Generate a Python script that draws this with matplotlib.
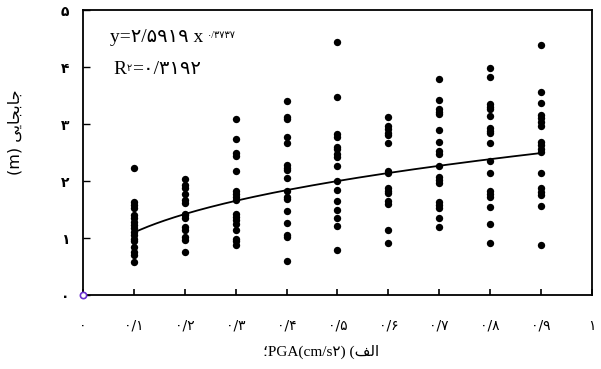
import matplotlib
matplotlib.use("Agg")
import matplotlib.pyplot as plt
import numpy as np

# ---- data ----
pga_levels = [0.1, 0.2, 0.3, 0.4, 0.5, 0.6, 0.7, 0.8, 0.9]
disp_01 = [2.23, 1.64, 1.58, 1.52, 1.40, 1.35, 1.29, 1.23, 1.17, 1.11, 1.05, 0.99, 0.94, 0.85, 0.76, 0.70, 0.58]
disp_02 = [2.04, 1.93, 1.87, 1.78, 1.67, 1.61, 1.43, 1.40, 1.35, 1.20, 1.14, 1.02, 0.96, 0.76]
disp_03 = [3.09, 2.74, 2.49, 2.44, 2.18, 1.83, 1.78, 1.72, 1.67, 1.43, 1.37, 1.32, 1.25, 1.14, 0.98, 0.94, 0.87]
disp_04 = [3.41, 3.12, 3.09, 2.78, 2.66, 2.29, 2.23, 2.19, 2.06, 1.83, 1.72, 1.68, 1.47, 1.27, 1.05, 1.02, 0.60]
disp_05 = [4.44, 3.48, 2.82, 2.78, 2.60, 2.56, 2.47, 2.43, 2.27, 2.00, 1.84, 1.65, 1.50, 1.36, 1.22, 0.79]
disp_06 = [3.13, 2.96, 2.91, 2.85, 2.81, 2.66, 2.18, 2.15, 1.87, 1.83, 1.79, 1.65, 1.60, 1.14, 0.91]
disp_07 = [3.79, 3.43, 3.26, 3.22, 3.18, 2.89, 2.69, 2.53, 2.47, 2.27, 2.08, 2.02, 1.97, 1.64, 1.58, 1.52, 1.36, 1.19]
disp_08 = [3.98, 3.82, 3.35, 3.30, 3.26, 3.14, 2.94, 2.88, 2.84, 2.66, 2.36, 2.15, 1.83, 1.78, 1.72, 1.55, 1.25, 0.92]
disp_09 = [4.39, 3.57, 3.37, 3.16, 3.10, 3.04, 2.96, 2.69, 2.63, 2.57, 2.51, 2.15, 1.87, 1.81, 1.75, 1.56, 0.88]
columns = [disp_01, disp_02, disp_03, disp_04, disp_05, disp_06, disp_07, disp_08, disp_09]

# power fit shown on the chart: y = a * x^b
fit_a = 2.5919
fit_b = 0.3737

x_ticks = [0, 0.1, 0.2, 0.3, 0.4, 0.5, 0.6, 0.7, 0.8, 0.9, 1.0]
x_tick_labels = ["۰", "۰/۱", "۰/۲", "۰/۳", "۰/۴", "۰/۵", "۰/۶", "۰/۷", "۰/۸", "۰/۹", "۱"]
y_ticks = [0, 1, 2, 3, 4, 5]
y_tick_labels = ["۰", "۱", "۲", "۳", "۴", "۵"]

eq_main = "y=۲/۵۹۱۹ x"
eq_exp = "۰/۳۷۳۷"
r2_a = "R"
r2_sup = "۲"
r2_b = "=۰/۳۱۹۲"
# visual-order text with Arabic presentation forms
ylabel_text = "(m) ﻰﻳﺎﺠﺑﺎﺟ"
xlabel_text = "؛PGA(cm/s۲) (ﻒﻟﺍ"

FONT = ["Liberation Serif", "DejaVu Sans"]
plt.rcParams["font.family"] = FONT

fig = plt.figure(figsize=(6.01, 3.69), dpi=100)
ax = fig.add_axes([0.138, 0.2005, 0.847, 0.772])

xs_all = []
ys_all = []
for lvl, col in zip(pga_levels, columns):
    xs_all.extend([lvl] * len(col))
    ys_all.extend(col)
ax.scatter(xs_all, ys_all, s=28, color="black", zorder=3, linewidths=0)

xf = np.linspace(pga_levels[0], pga_levels[-1], 200)
ax.plot(xf, fit_a * xf ** fit_b, color="black", lw=1.3, zorder=2)

# small open marker at origin
ax.plot([0], [0], marker="o", ms=4.5, mfc="white", mec="#6a2fd0", mew=1.2,
        clip_on=False, zorder=4)

ax.set_xlim(0, 1)
ax.set_ylim(0, 5)
ax.set_xticks(x_ticks)
ax.set_xticklabels(x_tick_labels, family=["DejaVu Sans"], fontsize=10)
ax.set_yticks(y_ticks)
ax.set_yticklabels(y_tick_labels, family=["DejaVu Sans"], fontsize=10, fontweight="bold")
ax.tick_params(axis="x", direction="in", length=4, width=1.2, pad=17)
ax.tick_params(axis="y", direction="in", length=5, width=1.0, pad=10)
ax.tick_params(top=False, right=False)
for sp in ax.spines.values():
    sp.set_linewidth(1.3)

ax.set_ylabel(ylabel_text, family=["DejaVu Sans"], fontsize=11.5, labelpad=20)
ax.yaxis.set_label_coords(-0.118, 0.572)
ax.set_xlabel(xlabel_text, family=FONT, fontsize=11, labelpad=14)
ax.xaxis.set_label_coords(0.468, -0.175)

# equation texts
t1 = ax.text(0.053, 0.905, eq_main, transform=ax.transAxes, fontsize=14,
             family=FONT, va="center", ha="left")
fig.canvas.draw()
r = fig.canvas.get_renderer()
bb = t1.get_window_extent(r)
ax.annotate(eq_exp, xy=(bb.x1, bb.y1), xycoords="figure pixels",
            xytext=(3, -2), textcoords="offset points", fontsize=7,
            family=FONT, va="top", ha="left")

t2 = ax.text(0.06, 0.79, r2_a, transform=ax.transAxes, fontsize=14,
             family=FONT, va="center", ha="left")
fig.canvas.draw()
bb2 = t2.get_window_extent(r)
t3 = ax.annotate(r2_sup, xy=(bb2.x1, bb2.y1), xycoords="figure pixels",
                 xytext=(0, -2), textcoords="offset points", fontsize=7,
                 family=FONT, va="top", ha="left")
fig.canvas.draw()
bb3 = t3.get_window_extent(r)
ax.annotate(r2_b, xy=(bb3.x1, (bb2.y0 + bb2.y1) / 2), xycoords="figure pixels",
            xytext=(0, 0), textcoords="offset points", fontsize=14,
            family=FONT, va="center", ha="left")

fig.savefig("out.png", dpi=100)
